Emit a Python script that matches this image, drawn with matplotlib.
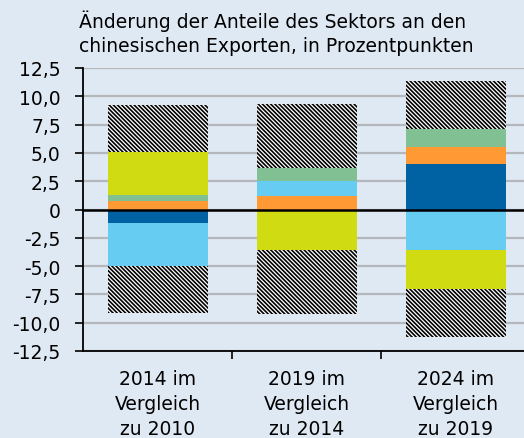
import matplotlib
matplotlib.use("Agg")
import matplotlib.pyplot as plt
import numpy as np

categories = ["2014 im\nVergleich\nzu 2010", "2019 im\nVergleich\nzu 2014", "2024 im\nVergleich\nzu 2019"]
# sector changes in percentage points (stack order)
dark_blue = [-1.20, 0.00, 4.06]
orange = [0.73, 1.20, 1.48]
light_blue = [-3.78, 1.35, -3.54]
green = [0.56, 1.13, 1.56]
yellow = [3.83, -3.59, -3.48]
other_pos = [4.14, 5.67, 4.26]
other_neg = [-4.12, -5.61, -4.22]
yticks = [12.5, 10.0, 7.5, 5.0, 2.5, 0, -2.5, -5.0, -7.5, -10.0, -12.5]
ytick_labels = ["12,5", "10,0", "7,5", "5,0", "2,5", "0", "-2,5", "-5,0", "-7,5", "-10,0", "-12,5"]
title = "Änderung der Anteile des Sektors an den\nchinesischen Exporten, in Prozentpunkten"

plt.rcParams['font.family'] = ['DejaVu Sans']
plt.rcParams['hatch.linewidth'] = 1.2
bg = "#dfe9f3"
FS = 13.5

fig = plt.figure(figsize=(5.24, 4.39), dpi=100, facecolor=bg)
ax = fig.add_axes([83/524, (439-352)/439, (524-83)/524, (352-69)/439], facecolor=bg)

x = np.arange(len(categories))
pos_bottom = np.zeros(len(x))
neg_bottom = np.zeros(len(x))
HATCH = "\\" * 8
series = [(dark_blue, "#0062a3", None), (orange, "#ff9933", None), (light_blue, "#66ccf2", None),
          (green, "#80c093", None), (yellow, "#d1db12", None),
          (other_pos, "white", HATCH), (other_neg, "white", HATCH)]
width = 100/149
for vals, col, hatch in series:
    v = np.array(vals, dtype=float)
    bottoms = np.where(v >= 0, pos_bottom, neg_bottom)
    if hatch:
        ax.bar(x, v, width, bottom=bottoms, color=col, edgecolor="black", linewidth=0, hatch=hatch, zorder=2)
    else:
        ax.bar(x, v, width, bottom=bottoms, color=col, linewidth=0, zorder=2)
    pos_bottom = pos_bottom + np.where(v >= 0, v, 0)
    neg_bottom = neg_bottom + np.where(v < 0, v, 0)

ax.set_xlim(-0.5, (524-83)/149 - 0.5)
ax.set_ylim(-12.5, 12.5)
ax.set_yticks(yticks)
ax.set_yticklabels(ytick_labels, fontsize=FS)
ax.yaxis.grid(True, color="#b4b8bc", linewidth=1.6, zorder=0)
ax.set_axisbelow(True)
ax.axhline(0, color="black", linewidth=1.8, zorder=5)
ax.tick_params(axis="y", length=6, width=1.2, color="black", pad=10)

ax.set_xticks(x)
ax.set_xticklabels(categories, fontsize=FS, linespacing=1.4)
ax.set_xticks([0.5, 1.5], minor=True)
ax.tick_params(axis="x", which="major", length=0, pad=13)
ax.tick_params(axis="x", which="minor", length=6, width=1.2, color="black", direction="out")

for s in ["top", "right"]:
    ax.spines[s].set_visible(False)
ax.spines["left"].set_linewidth(1.3)
ax.spines["bottom"].set_linewidth(1.3)

fig.text(79/524, 1 - 10/439, title, fontsize=FS, va="top", ha="left", linespacing=1.35)

fig.savefig("out.png", dpi=100, facecolor=bg)
